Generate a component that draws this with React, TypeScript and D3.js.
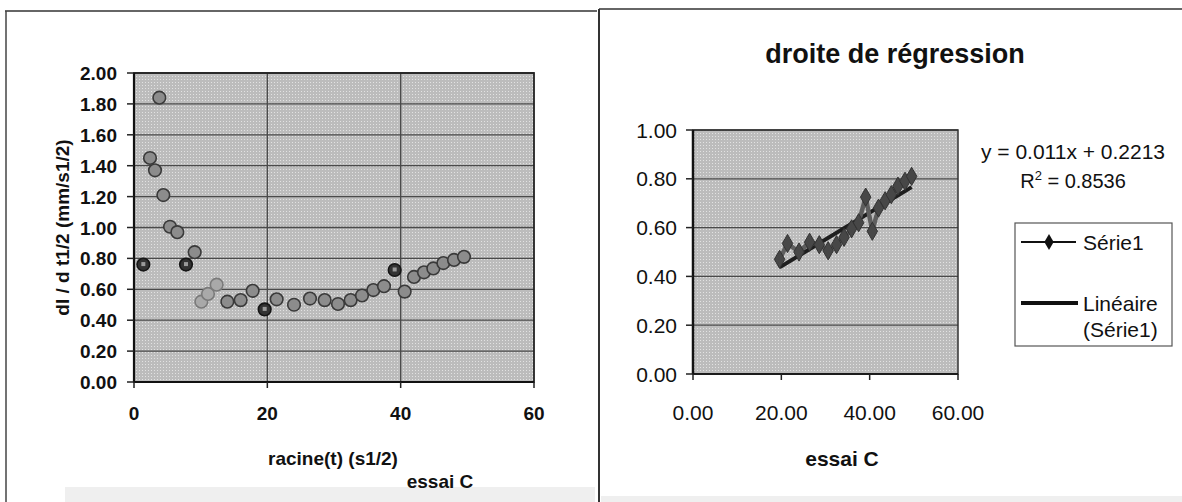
import React from "react";
import * as d3 from "d3";

// ---- data ----
const leftX = [1.4, 2.4, 3.15, 3.8, 4.4, 5.4, 6.5, 7.8, 9.1, 10.1, 11.1, 12.4, 14, 16, 17.8, 19.6, 21.4, 24, 26.4, 28.6, 30.6, 32.5, 34.2, 35.9, 37.5, 39.1, 40.6, 42, 43.5, 44.9, 46.4, 48, 49.5];
const leftY = [0.76, 1.45, 1.37, 1.84, 1.21, 1.005, 0.97, 0.76, 0.84, 0.52, 0.57, 0.63, 0.52, 0.53, 0.59, 0.47, 0.535, 0.5, 0.54, 0.53, 0.505, 0.53, 0.56, 0.595, 0.62, 0.725, 0.585, 0.68, 0.71, 0.735, 0.77, 0.79, 0.81];
// marker tone per point: n = normal, l = light, d = dark
const leftTone = ["d", "n", "n", "n", "n", "n", "n", "d", "n", "l", "l", "l", "n", "n", "n", "d", "n", "n", "n", "n", "n", "n", "n", "n", "n", "d", "n", "n", "n", "n", "n", "n", "n"];

const rightX = [19.6, 21.4, 24, 26.4, 28.6, 30.6, 32.5, 34.2, 35.9, 37.5, 39.1, 40.6, 42, 43.5, 44.9, 46.4, 48, 49.5];
const rightY = [0.47, 0.535, 0.5, 0.54, 0.53, 0.505, 0.53, 0.56, 0.595, 0.62, 0.725, 0.585, 0.68, 0.71, 0.735, 0.77, 0.79, 0.81];

const trendSlope = 0.011;
const trendIntercept = 0.2213;
const trendLabel = "y = 0.011x + 0.2213";
const r2Value = "0.8536";

const leftYTicks = [0, 0.2, 0.4, 0.6, 0.8, 1.0, 1.2, 1.4, 1.6, 1.8, 2.0];
const leftXTicks = [0, 20, 40, 60];
const rightYTicks = [0, 0.2, 0.4, 0.6, 0.8, 1.0];
const rightXTicks = [0, 20, 40, 60];

const leftXTitle = "racine(t) (s1/2)";
const leftYTitle = "dl / d t1/2 (mm/s1/2)";
const leftSub = "essai C";
const rightTitle = "droite de régression";
const rightXTitle = "essai C";
const legendSeries = "Série1";
const legendLin1 = "Linéaire";
const legendLin2 = "(Série1)";

const FONT = "'Liberation Sans', Arial, Helvetica, sans-serif";
const f2 = d3.format(".2f");

export default function App() {
  const xL = d3.scaleLinear().domain([0, 60]).range([134, 534]);
  const yL = d3.scaleLinear().domain([0, 2]).range([382, 73]);
  const xR = d3.scaleLinear().domain([0, 60]).range([693, 958]);
  const yR = d3.scaleLinear().domain([0, 1]).range([374, 130]);

  const rightPts = rightX.map((x, i) => [x, rightY[i]] as [number, number]);
  const lineGen = d3.line<[number, number]>().x(d => xR(d[0])).y(d => yR(d[1]));
  const diamond = d3.symbol().type(d3.symbolDiamond).size(95)();
  const legDiamond = d3.symbol().type(d3.symbolDiamond).size(75)();
  const tx0 = d3.min(rightX) as number;
  const tx1 = d3.max(rightX) as number;

  const toneFill: Record<string, string> = { n: "#8c8c8c", l: "#a9a9a9", d: "#333333" };
  const toneStroke: Record<string, string> = { n: "#3a3a3a", l: "#7a7a7a", d: "#151515" };

  return (
    <svg width={1182} height={502} style={{ position: "absolute", left: 0, top: 0, display: "block", background: "#fff" }} fontFamily={FONT}>
      <defs>
        <pattern id="dots" width="3" height="3" patternUnits="userSpaceOnUse">
          <rect width="3" height="3" fill="#bcbcbc" />
          <rect x="1" y="1" width="1" height="1" fill="#e2e2e2" />
        </pattern>
      </defs>

      {/* frames */}
      <line x1={5} y1={11} x2={597} y2={11} stroke="#333" strokeWidth={1.5} />
      <line x1={6} y1={11} x2={6} y2={502} stroke="#444" strokeWidth={1.5} />
      <line x1={599} y1={9} x2={599} y2={502} stroke="#333" strokeWidth={2} />
      <line x1={599} y1={9} x2={1182} y2={9} stroke="#333" strokeWidth={1.5} />
      <rect x={65} y={487} width={530} height={15} fill="#efefef" />
      <rect x={601} y={496} width={581} height={6} fill="#efefef" />

      {/* ===== left chart ===== */}
      <rect x={xL(0)} y={yL(2)} width={xL(60) - xL(0)} height={yL(0) - yL(2)} fill="url(#dots)" />
      {leftYTicks.map(t => (
        <line key={"lg" + t} x1={xL(0)} x2={xL(60)} y1={yL(t)} y2={yL(t)} stroke="#4a4a4a" strokeWidth={1.3} />
      ))}
      {leftXTicks.slice(1, -1).map(t => (
        <line key={"lv" + t} x1={xL(t)} x2={xL(t)} y1={yL(2)} y2={yL(0)} stroke="#4a4a4a" strokeWidth={1.3} />
      ))}
      <rect x={xL(0)} y={yL(2)} width={xL(60) - xL(0)} height={yL(0) - yL(2)} fill="none" stroke="#222" strokeWidth={1.8} />
      <line x1={xL(0)} x2={xL(60)} y1={yL(0)} y2={yL(0)} stroke="#111" strokeWidth={2.2} />
      <line x1={xL(0)} x2={xL(0)} y1={yL(2)} y2={yL(0)} stroke="#111" strokeWidth={2.2} />
      {leftYTicks.map(t => (
        <g key={"ly" + t}>
          <line x1={xL(0) - 7} x2={xL(0)} y1={yL(t)} y2={yL(t)} stroke="#222" strokeWidth={1.5} />
          <text x={117} y={yL(t) + 7} textAnchor="end" fontSize={19} fontWeight="bold" fill="#111">{f2(t)}</text>
        </g>
      ))}
      {leftXTicks.map(t => (
        <g key={"lx" + t}>
          <line x1={xL(t)} x2={xL(t)} y1={yL(0)} y2={yL(0) + 6} stroke="#222" strokeWidth={1.5} />
          <text x={xL(t)} y={420} textAnchor="middle" fontSize={19} fontWeight="bold" fill="#111">{t}</text>
        </g>
      ))}
      {leftX.map((x, i) => (
        <g key={"lp" + i}>
          <circle cx={xL(x)} cy={yL(leftY[i])} r={6.3} fill={toneFill[leftTone[i]]} stroke={toneStroke[leftTone[i]]} strokeWidth={1.6} />
          {leftTone[i] === "d" && (
            <rect x={xL(x) - 2} y={yL(leftY[i]) - 2.5} width={4} height={4} fill="#9a9a9a" />
          )}
        </g>
      ))}
      <text x={333} y={465} textAnchor="middle" fontSize={19} fontWeight="bold" fill="#111">{leftXTitle}</text>
      <text x={440} y={488} textAnchor="middle" fontSize={19} fontWeight="bold" fill="#111">{leftSub}</text>
      <text transform={`translate(69, ${(yL(0) + yL(2)) / 2}) rotate(-90)`} textAnchor="middle" fontSize={19} fontWeight="bold" fill="#111">{leftYTitle}</text>

      {/* ===== right chart ===== */}
      <text x={895} y={63} textAnchor="middle" fontSize={27} fontWeight="bold" fill="#111">{rightTitle}</text>
      <rect x={xR(0)} y={yR(1)} width={xR(60) - xR(0)} height={yR(0) - yR(1)} fill="url(#dots)" />
      {rightYTicks.map(t => (
        <line key={"rg" + t} x1={xR(0)} x2={xR(60)} y1={yR(t)} y2={yR(t)} stroke="#4a4a4a" strokeWidth={1.3} />
      ))}
      <rect x={xR(0)} y={yR(1)} width={xR(60) - xR(0)} height={yR(0) - yR(1)} fill="none" stroke="#333" strokeWidth={1.5} />
      <line x1={xR(0)} x2={xR(0)} y1={yR(1)} y2={yR(0)} stroke="#111" strokeWidth={2.5} />
      <line x1={xR(0)} x2={xR(60)} y1={yR(0)} y2={yR(0)} stroke="#111" strokeWidth={1.5} />
      {rightYTicks.map(t => (
        <g key={"ry" + t}>
          <line x1={xR(0) - 7} x2={xR(0)} y1={yR(t)} y2={yR(t)} stroke="#222" strokeWidth={1.5} />
          <text x={677} y={yR(t) + 7.5} textAnchor="end" fontSize={21} fill="#111">{f2(t)}</text>
        </g>
      ))}
      {rightXTicks.map(t => (
        <g key={"rx" + t}>
          <line x1={xR(t)} x2={xR(t)} y1={yR(0)} y2={yR(0) + 6} stroke="#222" strokeWidth={1.5} />
          <text x={xR(t)} y={420} textAnchor="middle" fontSize={21} fill="#111">{f2(t)}</text>
        </g>
      ))}
      <line x1={xR(tx0)} y1={yR(trendSlope * tx0 + trendIntercept)} x2={xR(tx1)} y2={yR(trendSlope * tx1 + trendIntercept)} stroke="#1e1e1e" strokeWidth={4} />
      <path d={lineGen(rightPts) || ""} fill="none" stroke="#5e5e5e" strokeWidth={4.5} strokeLinejoin="round" />
      {rightPts.map((p, i) => (
        <path key={"rp" + i} d={diamond || ""} transform={`translate(${xR(p[0])},${yR(p[1])})`} fill="#474747" stroke="#333" strokeWidth={1} />
      ))}
      <text x={842} y={466} textAnchor="middle" fontSize={21} fontWeight="bold" fill="#111">{rightXTitle}</text>

      {/* equation */}
      <text x={1073} y={159} textAnchor="middle" fontSize={21} fill="#111">{trendLabel}</text>
      <text x={1073} y={188} textAnchor="middle" fontSize={20} fill="#111">
        R<tspan dy={-8} fontSize={13}>2</tspan><tspan dy={8}> = {r2Value}</tspan>
      </text>

      {/* legend */}
      <rect x={1015} y={223} width={157} height={123} fill="#fff" stroke="#555" strokeWidth={1.2} />
      <line x1={1021} x2={1076} y1={242} y2={242} stroke="#111" strokeWidth={1.8} />
      <path d={legDiamond || ""} transform="translate(1049,242)" fill="#111" />
      <text x={1083} y={250} fontSize={21} fill="#111">{legendSeries}</text>
      <line x1={1021} x2={1078} y1={303} y2={303} stroke="#111" strokeWidth={4} />
      <text x={1083} y={311} fontSize={21} fill="#111">{legendLin1}</text>
      <text x={1083} y={337} fontSize={21} fill="#111">{legendLin2}</text>
    </svg>
  );
}
